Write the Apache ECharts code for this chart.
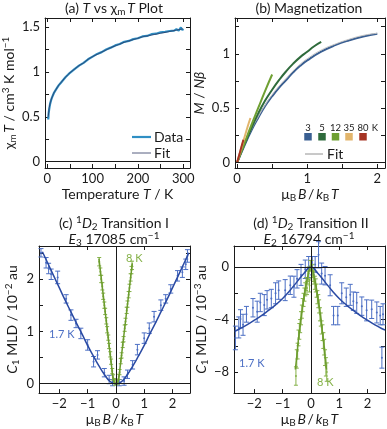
<!DOCTYPE html>
<html>
<head>
<meta charset="utf-8">
<script src="https://cdn.jsdelivr.net/npm/echarts@6/dist/echarts.min.js"></script>
<style>
html, body { margin: 0; padding: 0; background: #fff; }
#chart { width: 387px; height: 429px; }
</style>
</head>
<body>
<div id="chart"></div>
<script>
// ---- (a) chi_m T vs T ----
const tempK = [2, 3, 4, 5, 6, 8, 10, 12, 15, 20, 25, 30, 40, 50, 60, 70, 80, 90, 100, 110, 120, 130, 140, 150, 160, 170, 180, 190, 200, 210, 220, 230, 240, 250, 260, 270, 280, 285, 290, 295, 298, 300];
const chiTData = [0.47, 0.54, 0.58, 0.61, 0.64, 0.68, 0.71, 0.73, 0.77, 0.81, 0.85, 0.88, 0.94, 0.99, 1.03, 1.07, 1.10, 1.14, 1.17, 1.20, 1.22, 1.25, 1.27, 1.295, 1.31, 1.335, 1.345, 1.365, 1.375, 1.395, 1.40, 1.42, 1.425, 1.44, 1.445, 1.455, 1.46, 1.475, 1.46, 1.495, 1.465, 1.48];
const chiTFit = [0.50, 0.55, 0.59, 0.62, 0.645, 0.68, 0.71, 0.735, 0.77, 0.81, 0.85, 0.88, 0.94, 0.99, 1.03, 1.07, 1.10, 1.14, 1.17, 1.195, 1.22, 1.245, 1.27, 1.29, 1.31, 1.33, 1.345, 1.36, 1.375, 1.39, 1.40, 1.41, 1.42, 1.43, 1.44, 1.45, 1.46, 1.465, 1.47, 1.475, 1.478, 1.48];

// ---- (b) magnetization ----
const field3 = [0, 0.1, 0.2, 0.3, 0.4, 0.5, 0.6, 0.7, 0.8, 0.9, 1.0, 1.2, 1.4, 1.6, 1.8, 2.0];
const mag3 = [0, 0.15, 0.29, 0.41, 0.52, 0.61, 0.69, 0.76, 0.83, 0.89, 0.94, 1.02, 1.08, 1.125, 1.16, 1.185];
const mag3Fit = [0, 0.155, 0.3, 0.42, 0.53, 0.625, 0.705, 0.775, 0.845, 0.905, 0.955, 1.035, 1.09, 1.135, 1.17, 1.19];
const field5 = [0, 0.1, 0.2, 0.3, 0.4, 0.5, 0.6, 0.7, 0.8, 0.9, 1.0, 1.1, 1.2];
const mag5 = [0, 0.16, 0.31, 0.45, 0.57, 0.67, 0.76, 0.84, 0.91, 0.97, 1.02, 1.07, 1.11];
const field12 = [0, 0.1, 0.2, 0.3, 0.4, 0.5];
const mag12 = [0, 0.17, 0.34, 0.5, 0.66, 0.81];
const field35 = [0, 0.05, 0.1, 0.15, 0.19];
const mag35 = [0, 0.11, 0.22, 0.33, 0.41];
const field80 = [0, 0.03, 0.06, 0.09];
const mag80 = [0, 0.07, 0.14, 0.21];
const tempLabels = ['3', '5', '12', '35', '80'];

// ---- (c) transition I, 1.7 K and 8 K ----
const xC17 = [-2.65, -2.47, -2.38, -2.29, -2.06, -1.76, -1.59, -1.41, -1.24, -1.0, -0.79, -0.65, -0.41, -0.24, -0.12, 0.12, 0.29, 0.41, 0.59, 0.76, 1.0, 1.18, 1.35, 1.59, 1.76, 1.94, 2.18, 2.35, 2.47, 2.53];
const yC17 = [2.5, 2.31, 2.2, 2.09, 2.03, 1.62, 1.31, 1.15, 0.96, 0.74, 0.42, 0.55, 0.21, 0.08, 0.02, 0.02, 0.05, 0.18, 0.36, 0.65, 0.87, 1.06, 1.28, 1.5, 1.62, 1.81, 2.06, 2.13, 2.28, 2.44];
const eC17 = [0.08, 0.1, 0.1, 0.1, 0.12, 0.08, 0.1, 0.08, 0.1, 0.1, 0.1, 0.08, 0.08, 0.08, 0.06, 0.06, 0.08, 0.08, 0.08, 0.1, 0.1, 0.1, 0.1, 0.1, 0.08, 0.08, 0.1, 0.1, 0.1, 0.12];
const fitC17x = [-2.6, -2.4, -2.2, -2.0, -1.8, -1.6, -1.4, -1.2, -1.0, -0.8, -0.6, -0.4, -0.2, 0, 0.2, 0.4, 0.6, 0.8, 1.0, 1.2, 1.4, 1.6, 1.8, 2.0, 2.2, 2.4, 2.58];
const fitC17y = [2.52, 2.29, 2.06, 1.83, 1.6, 1.38, 1.16, 0.95, 0.73, 0.53, 0.34, 0.17, 0.04, 0, 0.04, 0.17, 0.34, 0.53, 0.73, 0.95, 1.16, 1.38, 1.6, 1.83, 2.06, 2.29, 2.5];
const xC8 = [-0.59, -0.55, -0.52, -0.48, -0.45, -0.41, -0.38, -0.34, -0.31, -0.27, -0.24, -0.2, -0.17, -0.13, -0.1, -0.06, -0.03, 0.03, 0.06, 0.1, 0.13, 0.17, 0.2, 0.24, 0.27, 0.31, 0.34, 0.38, 0.41, 0.45, 0.48, 0.52, 0.55, 0.57];
const yC8 = [2.33, 2.14, 2.0, 1.86, 1.67, 1.5, 1.38, 1.2, 1.03, 0.88, 0.72, 0.56, 0.42, 0.24, 0.12, 0.05, 0.02, 0.03, 0.04, 0.13, 0.22, 0.43, 0.54, 0.74, 0.85, 1.06, 1.19, 1.4, 1.52, 1.7, 1.83, 2.03, 2.17, 2.26];
const eC8 = [0.08, 0.07, 0.07, 0.07, 0.06, 0.06, 0.06, 0.06, 0.06, 0.05, 0.05, 0.05, 0.05, 0.05, 0.05, 0.05, 0.05, 0.05, 0.05, 0.05, 0.05, 0.05, 0.05, 0.05, 0.05, 0.06, 0.06, 0.06, 0.06, 0.06, 0.07, 0.07, 0.07, 0.08];
const fitC8x = [-0.6, -0.5, -0.4, -0.3, -0.2, -0.15, -0.1, -0.05, 0, 0.05, 0.1, 0.15, 0.2, 0.3, 0.4, 0.5, 0.58];
const fitC8y = [2.39, 1.93, 1.47, 1.01, 0.55, 0.32, 0.1, 0.01, 0, 0.01, 0.1, 0.32, 0.55, 1.01, 1.47, 1.93, 2.3];

// ---- (d) transition II, 1.7 K and 8 K ----
const xD17 = [-2.67, -2.55, -2.49, -2.4, -2.28, -2.05, -1.9, -1.79, -1.65, -1.55, -1.4, -1.25, -1.14, -0.91, -0.73, -0.6, -0.49, -0.35, -0.2, -0.08, 0.05, 0.15, 0.27, 0.38, 0.5, 0.68, 0.8, 0.95, 1.09, 1.25, 1.39, 1.5, 1.62, 1.8, 1.97, 2.15, 2.33, 2.45, 2.51, 2.55];
const yD17 = [-5.4, -4.6, -3.95, -4.4, -3.6, -3.1, -3.4, -2.7, -2.9, -2.5, -2.4, -2.0, -1.76, -1.76, -1.39, -1.5, -0.9, -0.6, -0.17, 0.0, 0.1, 0.2, 0.93, -0.5, -0.66, -1.39, -3.7, -3.7, -2.0, -2.3, -2.12, -2.6, -2.73, -2.98, -3.3, -3.22, -3.46, -3.7, -6.9, -3.6];
const eD17 = [0.9, 0.8, 0.7, 0.8, 0.6, 0.7, 0.8, 0.7, 0.8, 0.7, 0.7, 0.8, 0.7, 0.8, 0.7, 0.8, 0.7, 0.8, 0.7, 0.8, 0.7, 0.6, 1.0, 0.8, 0.7, 0.8, 0.7, 0.7, 0.8, 0.7, 0.8, 0.7, 0.8, 0.7, 0.8, 0.7, 0.8, 0.7, 0.8, 0.8];
const fitD17x = [-2.7, -2.5, -2.25, -2.0, -1.75, -1.5, -1.25, -1.0, -0.75, -0.5, -0.25, 0, 0.25, 0.5, 0.75, 1.0, 1.25, 1.5, 1.75, 2.0, 2.25, 2.5, 2.62];
const fitD17y = [-4.9, -4.68, -4.38, -4.05, -3.7, -3.3, -2.88, -2.4, -1.8, -1.15, -0.5, 0, -0.5, -1.15, -1.8, -2.4, -2.88, -3.3, -3.7, -4.05, -4.38, -4.68, -4.8];
const xD8 = [-0.53, -0.5, -0.47, -0.44, -0.41, -0.38, -0.35, -0.32, -0.29, -0.26, -0.23, -0.2, -0.17, -0.14, -0.11, -0.08, -0.05, -0.02, 0.02, 0.05, 0.08, 0.11, 0.14, 0.17, 0.2, 0.23, 0.26, 0.29, 0.32, 0.35, 0.38, 0.41, 0.44, 0.47, 0.5, 0.53, 0.56];
const yD8 = [-8.3, -7.0, -6.4, -5.4, -4.9, -4.5, -3.9, -3.4, -2.9, -2.5, -2.1, -1.7, -1.3, -1.6, -0.8, -0.5, -1.4, 0.1, 0.1, -0.3, -0.6, -0.8, -1.2, -1.4, -1.8, -2.3, -2.6, -3.0, -3.6, -4.0, -4.6, -5.0, -5.6, -6.1, -6.9, -7.6, -8.0];
const eD8 = [0.7, 0.7, 0.6, 0.6, 0.6, 0.5, 0.5, 0.5, 0.5, 0.5, 0.5, 0.5, 0.5, 0.5, 0.5, 0.5, 0.5, 0.4, 0.4, 0.5, 0.5, 0.5, 0.5, 0.5, 0.5, 0.5, 0.5, 0.5, 0.5, 0.5, 0.5, 0.6, 0.6, 0.6, 0.6, 0.7, 0.7];
const fitD8x = [-0.55, -0.5, -0.45, -0.4, -0.35, -0.3, -0.25, -0.2, -0.15, -0.1, -0.05, 0, 0.05, 0.1, 0.15, 0.2, 0.25, 0.3, 0.35, 0.4, 0.45, 0.5, 0.55];
const fitD8y = [-7.8, -6.8, -5.7, -4.8, -3.9, -3.1, -2.4, -1.7, -1.1, -0.6, -0.2, 0, -0.2, -0.6, -1.1, -1.7, -2.4, -3.1, -3.9, -4.8, -5.7, -6.8, -7.8];

// ---- ticks ----
const ticksA_x = [0, 50, 100, 150, 200, 250, 300], labelsA_x = [0, 100, 200, 300];
const ticksA_y = [0, 0.25, 0.5, 0.75, 1, 1.25, 1.5], labelsA_y = [0, 0.5, 1, 1.5];
const ticksB_x = [0, 0.5, 1, 1.5, 2], labelsB_x = [0, 1, 2];
const ticksB_y = [0, 0.25, 0.5, 0.75, 1, 1.25], labelsB_y = [0, 0.5, 1];
const ticksCD_x = [-2, -1, 0, 1, 2], labelsCD_x = [-2, -1, 0, 1, 2];
const ticksC_y = [0, 0.5, 1, 1.5, 2, 2.5], labelsC_y = [0, 1, 2];
const ticksD_y = [-8, -6, -4, -2, 0], labelsD_y = [-8, -4, 0];

const FONT = 'Lato';
const INK = '#1a1a1a';
const DATA_BLUE = '#2f8fc4';
const FIT_NAVY = '#2b3560';
const BLUE_PT = '#4c6fc4';
const BLUE_FIT = '#2a4aa3';
const GREEN_PT = '#86b24a';
const GREEN_FIT = '#6c9c2e';
const magColors = ['#3a5f92', '#2f6b3c', '#6fa033', '#e2b56c', '#a63424'];

const zip = (a, b) => a.map((v, i) => [v, b[i]]);
const zip3 = (a, b, c) => a.map((v, i) => [v, b[i], c[i]]);
const fmt = v => (v < 0 ? '\u2212' + Math.abs(v) : String(v));

const FS = 14;    // titles and axis names
const TICK_FS = 13;

// rich text for axis names (echarts styles)
const axisRich = {
    i: { fontStyle: 'italic', fontFamily: FONT, fontSize: FS, color: INK, lineHeight: 17 },
    sub: { fontFamily: FONT, fontSize: 10, color: INK, lineHeight: 8, verticalAlign: 'bottom' },
    sup: { fontFamily: FONT, fontSize: 10, color: INK, lineHeight: 8, verticalAlign: 'top' }
};
// rich text for graphic texts (zrender styles)
const zrRich = {
    i: { fontStyle: 'italic', fontFamily: FONT, fontSize: FS, fill: INK, lineHeight: 17 },
    sub: { fontFamily: FONT, fontSize: 10, fill: INK, lineHeight: 8, verticalAlign: 'bottom' },
    sup: { fontFamily: FONT, fontSize: 10, fill: INK, lineHeight: 8, verticalAlign: 'top' }
};

const grids = [
    { left: 39, top: 18, width: 151, height: 150 },
    { left: 235, top: 18, width: 150, height: 150 },
    { left: 39, top: 246, width: 151, height: 151 },
    { left: 234, top: 246, width: 151, height: 151 }
];

const axisLineStyle = { show: true, onZero: false, lineStyle: { color: INK, width: 1 } };
const nameStyle = { fontFamily: FONT, fontSize: FS, color: INK, lineHeight: 17, rich: axisRich };

function xAxes(gi, min, max, ticks, labels, name, nameGap) {
    const base = {
        type: 'value', gridIndex: gi, min: min, max: max,
        splitLine: { show: false },
        axisLine: axisLineStyle,
        axisTick: { show: true, inside: true, length: 4, customValues: ticks, lineStyle: { color: INK } }
    };
    return [
        Object.assign({}, base, {
            position: 'bottom',
            axisLabel: { customValues: labels, margin: 4, color: INK, fontFamily: FONT, fontSize: TICK_FS, formatter: fmt },
            name: name, nameLocation: 'middle', nameGap: nameGap, nameTextStyle: nameStyle
        }),
        Object.assign({}, base, { position: 'top', axisLabel: { show: false } })
    ];
}

function yAxes(gi, min, max, ticks, labels, name, nameGap) {
    const base = {
        type: 'value', gridIndex: gi, min: min, max: max,
        splitLine: { show: false },
        axisLine: axisLineStyle,
        axisTick: { show: true, inside: true, length: 4, customValues: ticks, lineStyle: { color: INK } }
    };
    return [
        Object.assign({}, base, {
            position: 'left',
            axisLabel: { customValues: labels, margin: 5, color: INK, fontFamily: FONT, fontSize: TICK_FS, formatter: fmt },
            name: name, nameLocation: 'middle', nameGap: nameGap, nameTextStyle: nameStyle
        }),
        Object.assign({}, base, { position: 'right', axisLabel: { show: false } })
    ];
}

const muB = '\u03bc{sub|B}\u2009{i|B}\u2009/\u2009{i|k}{sub|B}\u2009{i|T}';

const xAxis = [].concat(
    xAxes(0, -5, 315, ticksA_x, labelsA_x, 'Temperature {i|T} / K', 15),
    xAxes(1, -0.03, 2.11, ticksB_x, labelsB_x, muB, 15),
    xAxes(2, -2.72, 2.62, ticksCD_x, labelsCD_x, muB, 15),
    xAxes(3, -2.72, 2.62, ticksCD_x, labelsCD_x, muB, 15)
);
const yAxis = [].concat(
    yAxes(0, -0.07, 1.6, ticksA_y, labelsA_y, '\u03c7{sub|m}\u2009{i|T} / cm{sup|3} K mol{sup|\u22121}', 19),
    yAxes(1, -0.05, 1.33, ticksB_y, labelsB_y, '{i|M} / {i|N\u03b2}', 24),
    yAxes(2, -0.18, 2.63, ticksC_y, labelsC_y, '{i|C}{sub|1} MLD / 10{sup|\u22122} au', 18),
    yAxes(3, -9.6, 1.6, ticksD_y, labelsD_y, '{i|C}{sub|1} MLD / 10{sup|\u22123} au', 21)
);

function zeroLines(withX) {
    const d = [{ yAxis: 0 }];
    if (withX) d.push({ xAxis: 0 });
    return { silent: true, symbol: 'none', label: { show: false }, lineStyle: { color: INK, width: 1, type: 'solid' }, data: d };
}

function lineSeries(gi, data, color, width, extra) {
    return Object.assign({
        type: 'line', xAxisIndex: 2 * gi, yAxisIndex: 2 * gi, data: data,
        showSymbol: false, symbol: 'none', smooth: true, silent: true,
        lineStyle: { color: color, width: width }, itemStyle: { color: color }
    }, extra || {});
}

function errorBars(gi, data, color, cap) {
    return {
        type: 'custom', xAxisIndex: 2 * gi, yAxisIndex: 2 * gi, data: data, silent: true,
        itemStyle: { color: color },
        encode: { x: 0, y: 1 },
        renderItem: function (params, api) {
            const x = api.value(0), y = api.value(1), e = api.value(2);
            const hi = api.coord([x, y + e]);
            const lo = api.coord([x, y - e]);
            const c = api.coord([x, y]);
            const st = { stroke: color, lineWidth: 1 };
            return {
                type: 'group',
                children: [
                    { type: 'line', shape: { x1: hi[0], y1: hi[1], x2: lo[0], y2: lo[1] }, style: st },
                    { type: 'line', shape: { x1: hi[0] - cap, y1: hi[1], x2: hi[0] + cap, y2: hi[1] }, style: st },
                    { type: 'line', shape: { x1: lo[0] - cap, y1: lo[1], x2: lo[0] + cap, y2: lo[1] }, style: st },
                    { type: 'circle', shape: { cx: c[0], cy: c[1], r: 1 }, style: { fill: color } }
                ]
            };
        }
    };
}

const series = [
    // (a)
    lineSeries(0, zip(tempK, chiTData), DATA_BLUE, 2.2, { smooth: false }),
    lineSeries(0, zip(tempK, chiTFit), FIT_NAVY, 0.8, { markLine: zeroLines(false) }),
    // (b)
    lineSeries(1, zip(field3, mag3), magColors[0], 2),
    lineSeries(1, zip(field3, mag3Fit), '#c4c4c4', 1),
    lineSeries(1, zip(field5, mag5), magColors[1], 2),
    lineSeries(1, zip(field12, mag12), magColors[2], 2),
    lineSeries(1, zip(field35, mag35), magColors[3], 2),
    lineSeries(1, zip(field80, mag80), magColors[4], 2, { markLine: zeroLines(false) }),
    // (c)
    errorBars(2, zip3(xC17, yC17, eC17), BLUE_PT, 2.5),
    errorBars(2, zip3(xC8, yC8, eC8), GREEN_PT, 2),
    lineSeries(2, zip(fitC17x, fitC17y), BLUE_FIT, 1.5, { markLine: zeroLines(true) }),
    lineSeries(2, zip(fitC8x, fitC8y), GREEN_FIT, 1.5),
    // (d)
    errorBars(3, zip3(xD17, yD17, eD17), BLUE_PT, 2.5),
    errorBars(3, zip3(xD8, yD8, eD8), GREEN_PT, 2),
    lineSeries(3, zip(fitD17x, fitD17y), BLUE_FIT, 1.5, { markLine: zeroLines(true) }),
    lineSeries(3, zip(fitD8x, fitD8y), GREEN_FIT, 1.5)
];

function text(x, y, str, opts) {
    return {
        type: 'text', x: x, y: y, silent: true,
        style: Object.assign({
            text: str, rich: zrRich, fontFamily: FONT, fontSize: FS, fill: INK,
            lineHeight: 17, align: 'center', verticalAlign: 'middle'
        }, opts || {})
    };
}

const graphic = [
    text(114, 8, '(a) {i|T} vs \u03c7{sub|m}\u2009{i|T} Plot'),
    text(309, 8, '(b) Magnetization'),
    text(114, 223, '(c) {sup|1}{i|D}{sub|2} Transition I'),
    text(114, 239, '{i|E}{sub|3} 17085 cm{sup|\u22121}'),
    text(311, 223, '(d) {sup|1}{i|D}{sub|2} Transition II'),
    text(309, 239, '{i|E}{sub|2} 16794 cm{sup|\u22121}'),
    // (a) legend
    { type: 'line', silent: true, shape: { x1: 132, y1: 137, x2: 151, y2: 137 }, style: { stroke: DATA_BLUE, lineWidth: 2.2 } },
    text(154, 137, 'Data', { align: 'left' }),
    { type: 'line', silent: true, shape: { x1: 132, y1: 153, x2: 151, y2: 153 }, style: { stroke: FIT_NAVY, lineWidth: 0.8 } },
    text(154, 153, 'Fit', { align: 'left' }),
    // (b) legend
    { type: 'line', silent: true, shape: { x1: 305, y1: 154, x2: 323, y2: 154 }, style: { stroke: '#777', lineWidth: 0.8 } },
    text(327, 154, 'Fit', { align: 'left' }),
    text(375, 128, 'K', { fontSize: 9.5 }),
    // (c), (d) temperature labels
    text(49, 334, '1.7 K', { align: 'left', fontSize: 11, fill: BLUE_PT }),
    text(126, 258, '8 K', { align: 'left', fontSize: 11, fill: GREEN_PT }),
    text(239, 363, '1.7 K', { align: 'left', fontSize: 11, fill: BLUE_PT }),
    text(317, 382, '8 K', { align: 'left', fontSize: 11, fill: GREEN_PT })
];
const legendX = [308, 322, 335.5, 349, 363];
tempLabels.forEach((lab, i) => {
    graphic.push(text(legendX[i], 128, lab, { fontSize: 9.5 }));
    graphic.push({ type: 'rect', silent: true, shape: { x: legendX[i] - 3.75, y: 133, width: 7.5, height: 7.5 }, style: { fill: magColors[i] } });
});

const chart = echarts.init(document.getElementById('chart'), null, { renderer: 'canvas' });
chart.setOption({
    animation: false,
    backgroundColor: '#fff',
    textStyle: { fontFamily: FONT },
    grid: grids,
    xAxis: xAxis,
    yAxis: yAxis,
    series: series,
    graphic: graphic
});
</script>
</body>
</html>
